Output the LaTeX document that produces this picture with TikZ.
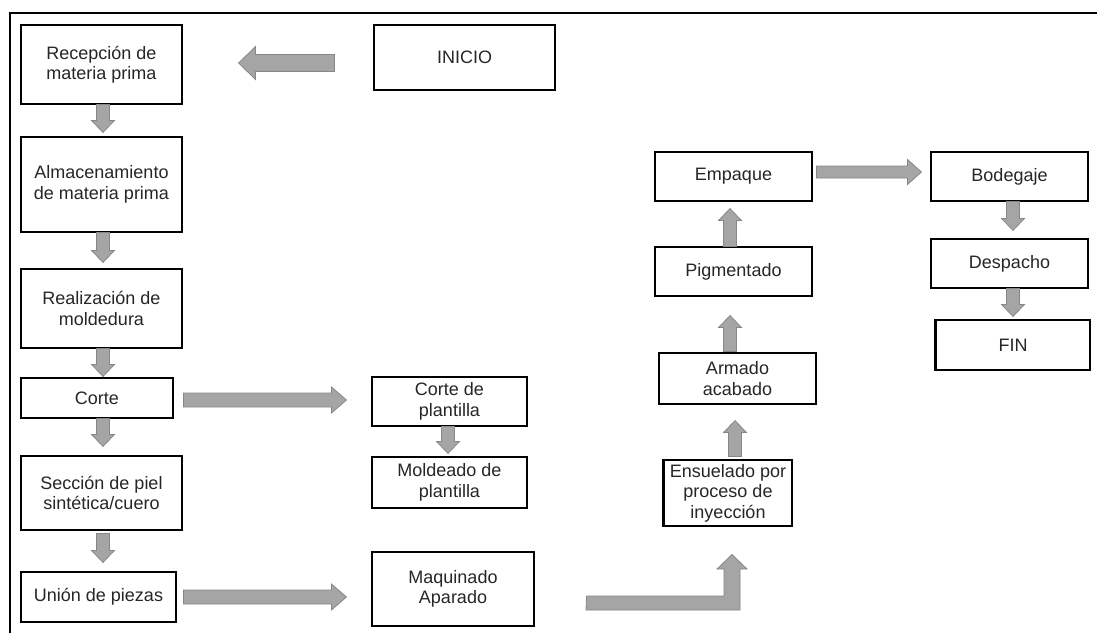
\documentclass[tikz,border=0pt]{standalone}
\usepackage{fontspec}
\setmainfont{Liberation Sans}
\usetikzlibrary{calc}
\definecolor{arrfill}{RGB}{165,165,165}
\definecolor{arrdraw}{RGB}{135,135,135}
\tikzset{
  box/.style={draw=black, line width=1.1pt, fill=white, align=center, inner sep=0pt,
    font=\fontsize{18}{20.5}\selectfont, text=black!85},
  blockarr/.style={fill=arrfill, draw=arrdraw, line width=0.8pt, line join=miter},
}
% \barrow{start}{tip}{shaft half}{head half}{head length}
\newcommand\barrow[5]{%
  \coordinate (ba) at #1;
  \coordinate (bt) at #2;
  \coordinate (bc) at ($(bt)!#5!(ba)$);
  \path[blockarr] ($(ba)!#3!90:(bt)$) -- ($(bc)!#3!-90:(ba)$) -- ($(bc)!#4!-90:(ba)$) -- (bt)
     -- ($(bc)!#4!90:(ba)$) -- ($(bc)!#3!90:(ba)$) -- ($(ba)!#3!-90:(bt)$) -- cycle;
}
\newcommand\varr[2]{\barrow{#1}{#2}{6.5pt}{11.5pt}{12pt}}
\begin{document}
\begin{tikzpicture}[x=1pt,y=1pt]
\useasboundingbox (0,0) rectangle (1097,-632);
\fill[white] (0,0) rectangle (1097,-632);
% outer frame
\draw[line width=2.2pt, black] (10,-640) -- (10,-13) -- (1105,-13);

% nodes
\node[box, minimum width=161, minimum height=79] (rec) at (101.5,-64.5) {Recepción de\\materia prima};
\node[box, minimum width=161, minimum height=95] (alm) at (101.5,-184.5) {Almacenamiento\\de materia prima};
\node[box, minimum width=161, minimum height=79] (rea) at (101.5,-308.5) {Realización de\\moldedura};
\node[box, minimum width=152, minimum height=40] (cor) at (97,-398) {Corte};
\node[box, minimum width=161, minimum height=74] (sec) at (101.5,-493) {Sección de piel\\sintética/cuero};
\node[box, minimum width=155, minimum height=50] (uni) at (98.5,-597) {Unión de piezas};
\node[box, minimum width=181, minimum height=65] (ini) at (464.5,-57.5) {INICIO};
\node[box, minimum width=155, minimum height=49] (cpl) at (449.5,-401.5) {Corte de\\plantilla};
\node[box, minimum width=155, minimum height=51] (mpl) at (449.5,-482.5) {Moldeado de\\plantilla};
\node[box, minimum width=162, minimum height=74] (maq) at (453,-589) {Maquinado\\Aparado};
\node[box, minimum width=128, minimum height=66] (ens) at (728,-493) {Ensuelado por\\proceso de\\inyección};
\node[box, minimum width=157, minimum height=51] (arm) at (737.5,-378.5) {Armado\\acabado};
\node[box, minimum width=157, minimum height=49] (pig) at (733.5,-271.5) {Pigmentado};
\node[box, minimum width=157, minimum height=49] (emp) at (733.5,-176.5) {Empaque};
\node[box, minimum width=157, minimum height=49] (bod) at (1009.5,-176.5) {Bodegaje};
\node[box, minimum width=157, minimum height=49] (des) at (1009.5,-263.5) {Despacho};
\node[box, minimum width=154, minimum height=50] (fin) at (1013,-345) {FIN};
% thicker left edges
\draw[line width=2.6pt] (ens.north west) -- (ens.south west);
\draw[line width=2.6pt] (fin.north west) -- (fin.south west);

% horizontal block arrows
\barrow{($(ini.west)+(-39,-5.5)$)}{($(rec.east)+(56,1.5)$)}{8.5pt}{16.5pt}{17pt}
\barrow{($(cor.east)+(10,-2)$)}{($(cpl.west)+(-25,1.5)$)}{7pt}{13pt}{15pt}
\barrow{($(uni.east)+(7,0)$)}{($(maq.west)+(-25,-8)$)}{7pt}{13pt}{15pt}
\barrow{($(emp.east)+(4,4.5)$)}{($(bod.west)+(-9,4.5)$)}{6pt}{12.5pt}{14pt}

% vertical block arrows
\varr{($(rec.south)+(1.5,0)$)}{($(alm.north)+(1.5,4)$)}
\varr{($(alm.south)+(1.5,0)$)}{($(rea.north)+(1.5,6)$)}
\varr{($(rea.south)+(1.5,0)$)}{($(cor.north)+(6,1)$)}
\varr{($(cor.south)+(6,0)$)}{($(sec.north)+(1.5,9)$)}
\varr{($(sec.south)+(1.5,-3)$)}{($(uni.north)+(4.5,9)$)}
\varr{($(cpl.south)+(-1.5,0)$)}{($(mpl.north)+(-1.5,3)$)}
\varr{($(ens.north)+(7,3)$)}{($(arm.south)+(-2.5,-16)$)}
\varr{($(arm.north)+(-7.5,1)$)}{($(pig.south)+(-3.5,-19)$)}
\varr{($(pig.north)+(-3.5,0)$)}{($(emp.south)+(-3.5,-7)$)}
\varr{($(bod.south)+(3.5,0)$)}{($(des.north)+(3.5,8)$)}
\varr{($(des.south)+(3.5,0)$)}{($(fin.north)+(0,3)$)}

% bent arrow from Maquinado Aparado up to Ensuelado
\coordinate (bstart) at ($(maq.east)+(52,-7)$);
\coordinate (btip) at ($(ens.south)+(4,-28)$);
\path[blockarr] (bstart) -- (bstart -| 724,0) -- (724,-569) -- (717,-569) -- (btip)
  -- (747,-569) -- (740,-569) -- (740,-610) -- (586,-610) -- cycle;
\end{tikzpicture}
\end{document}
